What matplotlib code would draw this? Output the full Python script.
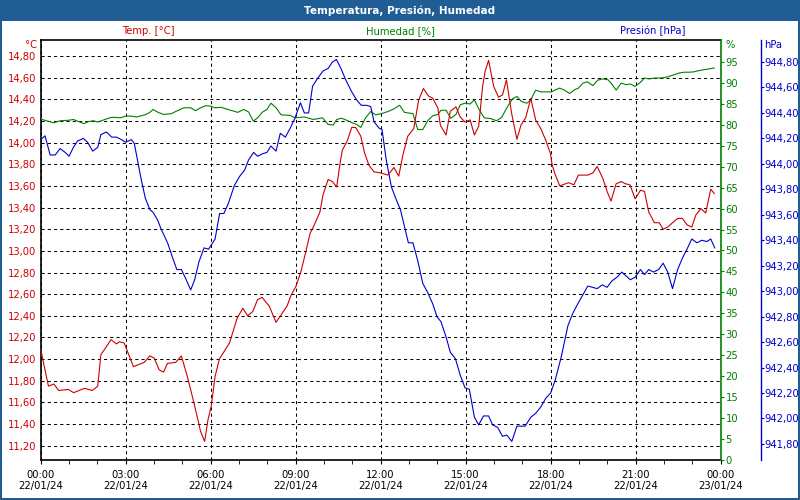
import matplotlib
matplotlib.use("Agg")
import matplotlib.pyplot as plt
from matplotlib.patches import Rectangle
from matplotlib.ticker import FuncFormatter, MultipleLocator
import numpy as np

# --- data (hours since 22/01/24 00:00) ---
temp_h = [0.0, 0.28, 0.47, 0.64, 0.98, 1.17, 1.55, 1.83, 2.02, 2.13, 2.49, 2.68, 2.78, 2.95,
          3.28, 3.66, 3.86, 4.01, 4.19, 4.34, 4.48, 4.77, 4.97, 5.18, 5.42, 5.65, 5.79, 5.91,
          6.02, 6.16, 6.31, 6.48, 6.67, 6.94, 7.14, 7.31, 7.49, 7.66, 7.82, 8.07, 8.31, 8.49,
          8.70, 8.84, 9.01, 9.19, 9.36, 9.51, 9.66, 9.86, 9.97, 10.15, 10.30, 10.45, 10.57,
          10.65, 10.83, 10.98, 11.12, 11.30, 11.44, 11.59, 11.77, 12.0, 12.26, 12.47, 12.64,
          12.79, 12.96, 13.17, 13.34, 13.51, 13.69, 13.84, 14.02, 14.11, 14.31, 14.46, 14.66,
          14.80, 14.98, 15.16, 15.31, 15.46, 15.60, 15.69, 15.81, 15.99, 16.16, 16.30, 16.44,
          16.63, 16.81, 16.95, 17.12, 17.30, 17.47, 17.65, 17.83, 17.99, 18.05, 18.14, 18.32,
          18.63, 18.82, 18.98, 19.31, 19.49, 19.64, 19.84, 19.99, 20.13, 20.31, 20.49, 20.64,
          20.80, 20.98, 21.17, 21.31, 21.46, 21.66, 21.83, 21.97, 22.13, 22.30, 22.48, 22.65,
          22.81, 22.98, 23.12, 23.30, 23.47, 23.65, 23.77]
temp_c = [12.10, 11.75, 11.77, 11.71, 11.72, 11.69, 11.73, 11.71, 11.75, 12.04, 12.18, 12.14,
          12.16, 12.15, 11.93, 11.97, 12.03, 12.01, 11.90, 11.88, 11.96, 11.97, 12.03, 11.84,
          11.59, 11.33, 11.24, 11.44, 11.56, 11.84, 12.00, 12.07, 12.15, 12.38, 12.47, 12.40,
          12.44, 12.55, 12.57, 12.49, 12.34, 12.41, 12.49, 12.59, 12.67, 12.81, 12.99, 13.16,
          13.24, 13.36, 13.52, 13.66, 13.64, 13.59, 13.81, 13.93, 14.02, 14.14, 14.14, 14.06,
          13.90, 13.79, 13.73, 13.72, 13.70, 13.77, 13.69, 13.89, 14.06, 14.13, 14.39, 14.50,
          14.43, 14.41, 14.32, 14.16, 14.07, 14.29, 14.33, 14.24, 14.19, 14.21, 14.07, 14.15,
          14.52, 14.66, 14.76, 14.52, 14.42, 14.44, 14.58, 14.26, 14.03, 14.16, 14.23, 14.41,
          14.21, 14.13, 14.02, 13.90, 13.80, 13.72, 13.60, 13.63, 13.61, 13.70, 13.70, 13.72,
          13.78, 13.67, 13.55, 13.46, 13.62, 13.64, 13.62, 13.61, 13.48, 13.56, 13.55, 13.36,
          13.26, 13.26, 13.20, 13.22, 13.26, 13.30, 13.30, 13.24, 13.22, 13.33, 13.39, 13.35,
          13.57, 13.53]

hum_h = [0.0, 0.26, 0.47, 0.69, 0.98, 1.16, 1.31, 1.54, 1.69, 1.86, 2.02, 2.27, 2.49, 2.65,
         2.83, 3.0, 3.21, 3.39, 3.68, 3.86, 3.97, 4.15, 4.34, 4.62, 4.83, 5.06, 5.30, 5.47,
         5.65, 5.83, 6.0, 6.14, 6.38, 6.61, 6.96, 7.17, 7.34, 7.51, 7.66, 7.82, 7.99, 8.13,
         8.31, 8.49, 8.81, 8.98, 9.31, 9.63, 9.95, 10.15, 10.33, 10.45, 10.62, 10.81, 10.97,
         11.16, 11.30, 11.47, 11.65, 11.83, 12.03, 12.26, 12.49, 12.67, 12.84, 13.14, 13.31,
         13.49, 13.66, 13.84, 14.02, 14.13, 14.31, 14.48, 14.66, 14.81, 14.98, 15.16, 15.31,
         15.48, 15.66, 15.89, 16.09, 16.27, 16.48, 16.66, 16.81, 16.97, 17.16, 17.30, 17.47,
         17.65, 17.83, 18.03, 18.14, 18.32, 18.49, 18.67, 18.84, 18.98, 19.14, 19.29, 19.49,
         19.66, 19.84, 20.02, 20.16, 20.31, 20.49, 20.66, 20.81, 20.98, 21.17, 21.31, 21.48,
         21.66, 21.83, 22.01, 22.18, 22.36, 22.53, 22.71, 22.89, 23.06, 23.24, 23.42, 23.59,
         23.77]
hum_pct = [81.4, 80.9, 80.5, 81.0, 81.1, 81.3, 80.9, 80.3, 80.8, 81.0, 80.7, 81.3, 81.8, 81.8,
           81.7, 82.1, 82.1, 81.9, 82.4, 83.0, 83.7, 83.0, 82.5, 82.7, 83.4, 84.1, 84.1, 83.4,
           84.1, 84.6, 84.5, 84.1, 84.2, 83.7, 83.0, 83.7, 83.1, 80.9, 81.7, 83.0, 83.7, 85.2,
           84.1, 82.4, 82.3, 81.7, 81.9, 81.3, 81.7, 80.1, 80.0, 81.3, 81.6, 81.1, 80.6, 80.1,
           79.4, 81.7, 83.2, 82.4, 82.7, 83.2, 83.9, 84.7, 83.0, 82.7, 78.9, 78.9, 81.0, 82.2,
           82.5, 83.5, 83.5, 81.6, 82.5, 84.8, 85.2, 85.0, 86.0, 83.6, 81.7, 81.5, 81.0, 81.8,
           84.4, 86.3, 86.8, 85.6, 85.2, 86.0, 88.3, 87.9, 87.9, 87.9, 88.3, 88.8, 88.3, 87.5,
           88.4, 88.8, 90.0, 90.3, 89.4, 90.7, 91.0, 90.8, 89.8, 88.3, 90.0, 89.6, 89.8, 89.2,
           90.2, 91.2, 91.0, 91.2, 91.2, 91.3, 91.6, 92.0, 92.4, 92.6, 92.6, 92.7, 93.0, 93.2,
           93.4, 93.6]

pres_h = [0.0, 0.16, 0.34, 0.52, 0.69, 0.87, 1.01, 1.16, 1.31, 1.51, 1.66, 1.84, 2.02, 2.13,
          2.33, 2.51, 2.68, 2.86, 3.0, 3.21, 3.31, 3.45, 3.56, 3.70, 3.86, 3.97, 4.13, 4.27,
          4.38, 4.50, 4.65, 4.81, 4.97, 5.12, 5.30, 5.44, 5.59, 5.77, 5.93, 6.16, 6.32, 6.47,
          6.63, 6.84, 7.02, 7.20, 7.34, 7.52, 7.66, 7.84, 7.99, 8.13, 8.31, 8.46, 8.64, 8.81,
          8.98, 9.17, 9.31, 9.46, 9.60, 9.77, 9.97, 10.15, 10.30, 10.44, 10.60, 10.77, 10.97,
          11.16, 11.32, 11.51, 11.65, 11.77, 11.95, 12.05, 12.20, 12.38, 12.55, 12.70, 12.84,
          12.98, 13.14, 13.31, 13.49, 13.66, 13.84, 13.99, 14.13, 14.31, 14.46, 14.64, 14.81,
          14.98, 15.13, 15.31, 15.46, 15.63, 15.81, 15.95, 16.13, 16.30, 16.45, 16.63, 16.81,
          16.95, 17.10, 17.30, 17.47, 17.65, 17.83, 18.0, 18.16, 18.38, 18.61, 18.79, 18.98,
          19.16, 19.31, 19.49, 19.64, 19.82, 19.99, 20.16, 20.34, 20.51, 20.66, 20.81, 20.98,
          21.17, 21.31, 21.46, 21.63, 21.81, 21.97, 22.13, 22.30, 22.48, 22.65, 22.81, 22.98,
          23.16, 23.33, 23.51, 23.65, 23.79]
pres_hpa = [944.19, 944.22, 944.07, 944.07, 944.12, 944.09, 944.06, 944.13, 944.18, 944.20,
            944.17, 944.10, 944.13, 944.23, 944.25, 944.21, 944.21, 944.19, 944.17, 944.19,
            944.16, 944.00, 943.87, 943.73, 943.64, 943.62, 943.56, 943.48, 943.43, 943.37,
            943.27, 943.17, 943.17, 943.10, 943.01, 943.09, 943.23, 943.34, 943.33, 943.41,
            943.61, 943.61, 943.69, 943.83, 943.90, 943.95, 944.03, 944.09, 944.06, 944.08,
            944.09, 944.14, 944.10, 944.24, 944.21, 944.28, 944.36, 944.48, 944.40, 944.40,
            944.61, 944.67, 944.73, 944.75, 944.80, 944.82, 944.75, 944.66, 944.57, 944.50,
            944.46, 944.46, 944.45, 944.33, 944.28, 944.27, 944.03, 943.82, 943.72, 943.64,
            943.51, 943.38, 943.38, 943.24, 943.06, 942.99, 942.90, 942.80, 942.76, 942.64,
            942.52, 942.47, 942.34, 942.24, 942.23, 942.01, 941.95, 942.02, 942.02, 941.95,
            941.93, 941.86, 941.87, 941.82, 941.94, 941.94, 941.94, 942.01, 942.04, 942.09,
            942.16, 942.20, 942.30, 942.49, 942.73, 942.83, 942.91, 942.98, 943.04, 943.03,
            943.02, 943.05, 943.03, 943.08, 943.11, 943.15, 943.12, 943.09, 943.11, 943.17,
            943.13, 943.17, 943.15, 943.17, 943.22, 943.15, 943.02, 943.17, 943.26, 943.33,
            943.41, 943.38, 943.40, 943.39, 943.41, 943.34]

x_ticks = [0, 3, 6, 9, 12, 15, 18, 21, 24]
x_labels = ["00:00\n22/01/24", "03:00\n22/01/24", "06:00\n22/01/24", "09:00\n22/01/24",
            "12:00\n22/01/24", "15:00\n22/01/24", "18:00\n22/01/24", "21:00\n22/01/24",
            "00:00\n23/01/24"]
hum_ticks = list(range(0, 100, 5))

RED = "#cc0000"
GREEN = "#008000"
BLUE = "#0000cc"
BAR = "#1f5d94"
FS = 7.2

plt.rcParams["font.family"] = ["DejaVu Sans"]

fig = plt.figure(figsize=(8, 5), dpi=100)

# window frame + title bar
fig.patches.append(Rectangle((0, 1 - 21 / 500), 1, 21 / 500, transform=fig.transFigure,
                             fc=BAR, ec="none", zorder=0))
for r in [(0, 0, 2 / 800, 1), (1 - 2 / 800, 0, 2 / 800, 1), (0, 0, 1, 2 / 500)]:
    fig.patches.append(Rectangle(r[:2], r[2], r[3], transform=fig.transFigure,
                                 fc=BAR, ec="none", zorder=0))
fig.text(0.5, 1 - 10.5 / 500, "Temperatura, Presión, Humedad", color="white",
         fontsize=7.5, fontweight="bold", ha="center", va="center")

ax = fig.add_axes([40.5 / 800, 40 / 500, 680.2 / 800, 420 / 500])
ax_h = ax.twinx()
ax_p = ax.twinx()

comma = FuncFormatter(lambda v, p: f"{v:.2f}".replace(".", ","))

# temperature axis (left)
ax.set_xlim(0, 24)
ax.set_ylim(11.068, 14.948)
ax.yaxis.set_major_locator(MultipleLocator(0.2))
ax.yaxis.set_major_formatter(comma)
ax.tick_params(axis="y", length=0, labelcolor=RED, labelsize=FS, pad=3)
ax.set_xticks(x_ticks)
ax.set_xticklabels(x_labels)
ax.xaxis.set_minor_locator(MultipleLocator(1))
ax.tick_params(axis="x", which="major", length=3, labelsize=FS, pad=4, color="black")
ax.tick_params(axis="x", which="minor", length=3, color="black")
ax.grid(True, which="major", color="black", linestyle=(0, (3, 3)), linewidth=0.75)
for s in ["left", "bottom", "top"]:
    ax.spines[s].set_color("black")
    ax.spines[s].set_linewidth(1.2)
ax.spines["right"].set_visible(False)

# humidity axis (right, green)
ax_h.set_ylim(-0.1, 100.3)
ax_h.set_yticks(hum_ticks)
ax_h.tick_params(axis="y", length=2.5, color=GREEN, labelcolor=GREEN, labelsize=FS, pad=1)
ax_h.spines["right"].set_color(GREEN)
ax_h.spines["right"].set_linewidth(1.2)
for s in ["left", "bottom", "top"]:
    ax_h.spines[s].set_visible(False)

# pressure axis (outer right, blue)
ax_p.set_ylim(941.674, 944.973)
ax_p.yaxis.set_major_locator(MultipleLocator(0.2))
ax_p.yaxis.set_major_formatter(comma)
ax_p.spines["right"].set_position(("axes", 1.0588))
ax_p.spines["right"].set_color(BLUE)
ax_p.spines["right"].set_linewidth(1.0)
ax_p.tick_params(axis="y", length=2, color=BLUE, labelcolor=BLUE, labelsize=FS, pad=1)
for s in ["left", "bottom", "top"]:
    ax_p.spines[s].set_visible(False)

ax_h.plot(hum_h, hum_pct, color=GREEN, linewidth=0.8)
ax_p.plot(pres_h, pres_hpa, color=BLUE, linewidth=0.8)
ax_p.plot(np.array(temp_h), np.array(temp_c), color=RED, linewidth=0.8,
          transform=ax.transData)

# axis captions
fig.text(148 / 800, 1 - 31 / 500, "Temp. [°C]", color=RED, fontsize=FS, ha="center", va="center")
fig.text(400 / 800, 1 - 31 / 500, "Humedad [%]", color=GREEN, fontsize=FS, ha="center", va="center")
fig.text(653 / 800, 1 - 31 / 500, "Presión [hPa]", color=BLUE, fontsize=FS, ha="center", va="center")
fig.text(37 / 800, 1 - 45 / 500, "°C", color=RED, fontsize=FS, ha="right", va="center")
fig.text(725 / 800, 1 - 45 / 500, "%", color=GREEN, fontsize=FS, ha="left", va="center")
fig.text(764 / 800, 1 - 45 / 500, "hPa", color=BLUE, fontsize=FS, ha="left", va="center")

fig.savefig("out.png", dpi=100)
